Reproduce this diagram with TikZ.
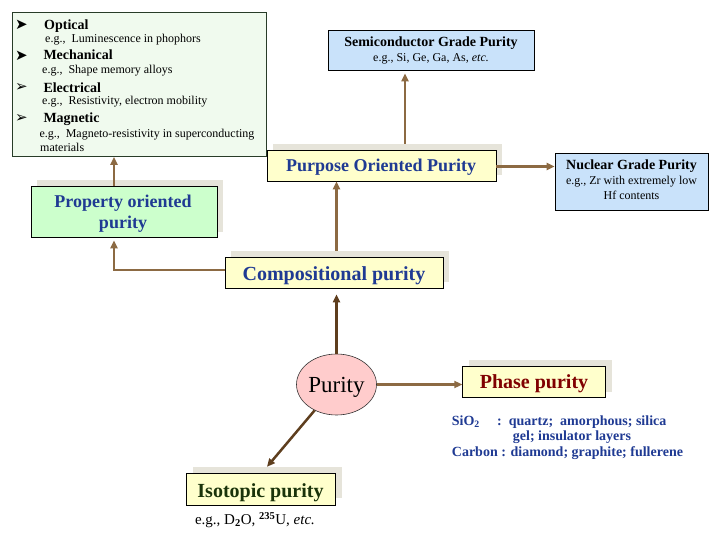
\documentclass[tikz,border=0pt]{standalone}
\usepackage{fontspec}
\setmainfont{Liberation Serif}
\newfontfamily\symfont{DejaVu Sans}
\usetikzlibrary{arrows.meta,shapes.geometric,calc}
\definecolor{boxyellow}{HTML}{FFFFCC}
\definecolor{boxgreen}{HTML}{CCFFCC}
\definecolor{boxblue}{HTML}{C9E2FA}
\definecolor{palegreen}{HTML}{F0FAEE}
\definecolor{greenedge}{HTML}{283C28}
\definecolor{shadowgray}{HTML}{E6E4DA}
\definecolor{boxpink}{HTML}{FFCCCC}
\definecolor{arrbrown}{HTML}{8C6A43}
\definecolor{arrdark}{HTML}{5E3E1E}
\definecolor{txtblue}{HTML}{1F3A93}
\definecolor{txtred}{HTML}{800000}
\definecolor{txtgreen}{HTML}{1A330A}
\newcommand{\fs}[1]{\fontsize{#1}{#1}\selectfont}
\begin{document}
\begin{tikzpicture}[x=1pt,y=-1pt,
  box/.style={draw=black, line width=0.8pt, inner sep=0pt},
  shadowbox/.style={fill=shadowgray, draw=none, inner sep=0pt},
  txt/.style={inner sep=0pt, anchor=base},
  ltxt/.style={inner sep=0pt, anchor=base west},
  big/.style={txt, font=\fs{18}\bfseries, text=txtblue},
  bigger/.style={txt, font=\fs{20}\bfseries, text=txtblue},
  head/.style={ltxt, font=\fs{14}\bfseries},
  small/.style={ltxt, font=\fs{12}},
  bul/.style={inner sep=0pt, anchor=west, font=\symfont\fs{15}},
  desc/.style={ltxt, font=\fs{14}\bfseries, text=txtblue},
  arr/.style={-{Triangle[length=8pt,width=7pt]}, line width=2.2pt, draw=arrbrown},
  darr/.style={arr, line width=2.5pt, draw=arrdark}
]
\useasboundingbox[fill=white] (0,0) rectangle (720,540);

% ---- property list box ----
\node[draw=greenedge, fill=palegreen, line width=0.8pt, inner sep=0pt,
      minimum width=253.5pt, minimum height=144pt] (props) at (139.25,84.5) {};
\node[bul] (b1) at (15,24.5) {➤};
\node[head] (h1) at (44,29.3) {Optical};
\node[small] (e1) at (45,43) {e.g.,\ \ Luminescence in phophors};
\node[bul] (b2) at (15,55.5) {➤};
\node[head] (h2) at (43.3,59.8) {Mechanical};
\node[small] (e2) at (42,73.8) {e.g.,\ \ Shape memory alloys};
\node[bul] (b3) at (15,87.5) {➢};
\node[head] (h3) at (43.3,92.3) {Electrical};
\node[small] (e3) at (42,104.3) {e.g.,\ \ Resistivity, electron mobility};
\node[bul] (b4) at (15,118.5) {➢};
\node[head] (h4) at (43.3,122.5) {Magnetic};
\node[small] (e4) at (39.3,137.5) {e.g.,\ \ Magneto-resistivity in superconducting};
\node[small] (e5) at (40,151.5) {materials};

% ---- semiconductor ----
\node[box, fill=boxblue, minimum width=206pt, minimum height=40pt] (semi) at (431,50) {};
\node[txt, font=\fs{14}\bfseries] (semiT) at (431,46.5) {Semiconductor Grade Purity};
\node[txt, font=\fs{12}] (semiE) at (431,61.5) {e.g., Si, Ge, Ga, As, \textit{etc.}};

% ---- nuclear ----
\node[box, fill=boxblue, minimum width=153pt, minimum height=57pt] (nuc) at (631.5,181.5) {};
\node[txt, font=\fs{14}\bfseries] (nucT) at (631.5,170) {Nuclear Grade Purity};
\node[txt, font=\fs{12}] (nucE1) at (631.5,185) {e.g., Zr with extremely low};
\node[txt, font=\fs{12}] (nucE2) at (631.5,199.5) {Hf contents};

% ---- purpose ----
\node[shadowbox, minimum width=229pt, minimum height=31pt] (purS) at (387.5,159.5) {};
\node[box, fill=boxyellow, minimum width=229pt, minimum height=31pt] (pur) at (381.5,165.5) {};
\node[big] (purT) at (381,171.3) {Purpose Oriented Purity};

% ---- property oriented ----
\node[shadowbox, minimum width=186pt, minimum height=52pt] (propS) at (130,206) {};
\node[box, fill=boxgreen, minimum width=186pt, minimum height=51pt] (prop) at (124,211.5) {};
\node[big] (propT1) at (123,207.5) {Property oriented};
\node[big] (propT2) at (123,229) {purity};

% ---- compositional ----
\node[shadowbox, minimum width=218pt, minimum height=31pt] (compS) at (340,266.5) {};
\node[box, fill=boxyellow, minimum width=218pt, minimum height=31pt] (comp) at (334,272.5) {};
\node[bigger] (compT) at (334,280) {Compositional purity};

% ---- purity ellipse ----
\node[ellipse, draw=black!80, line width=0.6pt, fill=boxpink, inner sep=0pt,
      minimum width=80pt, minimum height=61pt] (purity) at (336.5,384.5) {};
\node[txt, font=\fs{23}] (purityT) at (336.5,392.5) {Purity};

% ---- phase ----
\node[shadowbox, minimum width=143pt, minimum height=31.7pt] (phaseS) at (540,376) {};
\node[box, fill=boxyellow, minimum width=143pt, minimum height=31pt] (phase) at (534.2,382.2) {};
\node[bigger, text=txtred] (phaseT) at (534,388.5) {Phase purity};
\node[desc] (d1a) at (451.7,425.5) {SiO\textsubscript{2}};
\node[desc] (d1b) at (497,425.5) {:\ \ quartz;\ \ amorphous; silica};
\node[desc] (d2) at (512.7,440.5) {gel; insulator layers};
\node[desc] (d3) at (451.7,456) {Carbon : diamond; graphite; fullerene};

% ---- isotopic ----
\node[shadowbox, minimum width=149pt, minimum height=31pt] (isoS) at (267,482.5) {};
\node[box, fill=boxyellow, minimum width=149pt, minimum height=32pt] (iso) at (261,489) {};
\node[bigger, text=txtgreen] (isoT) at (260.5,497) {Isotopic purity};
\node[txt, font=\fs{15}] (isoE) at (255,524.5) {e.g., D\textsubscript{\textbf{2}}O, \textsuperscript{\textbf{235}}U, \textit{etc.}};

% ---- helper coordinates ----
\coordinate (xa) at (405,0);
\coordinate (xb) at (336.5,0);
\coordinate (xc) at (114,0);
\coordinate (yc) at (0,270);
\coordinate (yd) at (0,166.5);

% ---- connectors ----
\draw[arr, shorten >=3pt] (purS.north -| xa) -- (semi.south -| xa);
\draw[arr] (pur.east |- yd) -- (nuc.west |- yd);
\draw[arr] (compS.north -| xb) -- (pur.south -| xb);
\draw[darr, shorten >=6pt] (purity.north) -- (comp.south -| purity.north);
\draw[arr, shorten >=3pt] (comp.west |- yc) -| (prop.south -| xc);
\draw[arr] (prop.north -| xc) -- (props.south -| xc);
\draw[arr] (purity.east) -- (phase.west |- purity.east);
\draw[darr] (purity) -- (isoS.north);
\end{tikzpicture}
\end{document}
